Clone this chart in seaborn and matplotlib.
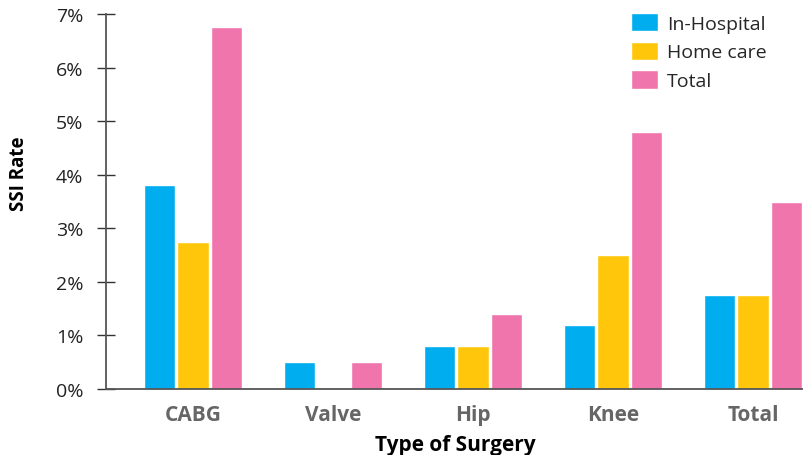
import numpy as np
import pandas as pd
import matplotlib
matplotlib.use("Agg")
import matplotlib.pyplot as plt
import seaborn as sns

# SSI rates (%) by type of surgery
categories = ["CABG", "Valve", "Hip", "Knee", "Total"]
series_names = ["In-Hospital", "Home care", "Total"]
in_hospital = [3.8, 0.5, 0.8, 1.2, 1.75]
home_care = [2.75, 0.0, 0.8, 2.5, 1.75]
total = [6.75, 0.5, 1.4, 4.8, 3.5]
y_ticks = [0, 1, 2, 3, 4, 5, 6, 7]

colors = ["#00AEEF", "#FFC60B", "#F075AD"]

# long-form table for seaborn
df = pd.DataFrame(
    {
        "surgery": categories * 3,
        "rate": in_hospital + home_care + total,
        "series": [s for s in series_names for _ in categories],
    }
)

sns.set_theme(style="white")
plt.rcParams["font.family"] = ["Open Sans", "DejaVu Sans"]

fig = plt.figure(figsize=(8.04, 4.56), dpi=100)
ax = fig.add_axes([0.132, 0.1447, 0.868, 0.8223])

sns.barplot(
    data=df,
    x="surgery",
    y="rate",
    hue="series",
    palette=colors,
    saturation=1,
    width=0.72,
    gap=0.06,
    ax=ax,
)

ax.set_xlim(-0.621, 4.365)
ax.set_ylim(0, 7)
ax.set_yticks(y_ticks)
ax.yaxis.set_major_formatter(lambda v, p: f"{v:.0f}%")

# axes styling
for side in ["top", "right"]:
    ax.spines[side].set_visible(False)
for side in ["left", "bottom"]:
    ax.spines[side].set_color("#555555")
    ax.spines[side].set_linewidth(1.3)

ax.tick_params(axis="y", direction="inout", length=13, width=1.0, color="#333333",
               labelsize=14, labelcolor="#222222", pad=10, left=True)
ax.tick_params(axis="x", length=0, pad=11)
for lbl in ax.get_xticklabels():
    lbl.set_fontsize(15)
    lbl.set_fontweight("bold")
    lbl.set_color("#666666")

ax.set_xlabel("Type of Surgery", fontsize=15, fontweight="bold", color="black", labelpad=6)
ax.set_ylabel("SSI Rate", fontsize=13.5, fontweight="bold", color="black")
ax.yaxis.set_label_coords(-0.11, 0.576)

handles, labels = ax.get_legend_handles_labels()
ax.legend(
    handles,
    labels,
    loc="upper left",
    bbox_to_anchor=(631 / 804, 1 - 14 / 456),
    bbox_transform=fig.transFigure,
    frameon=False,
    fontsize=14,
    handlelength=1.4,
    handleheight=1.08,
    handletextpad=0.45,
    labelspacing=0.45,
    borderpad=0,
    borderaxespad=0,
)

fig.savefig("out.png", dpi=100)
